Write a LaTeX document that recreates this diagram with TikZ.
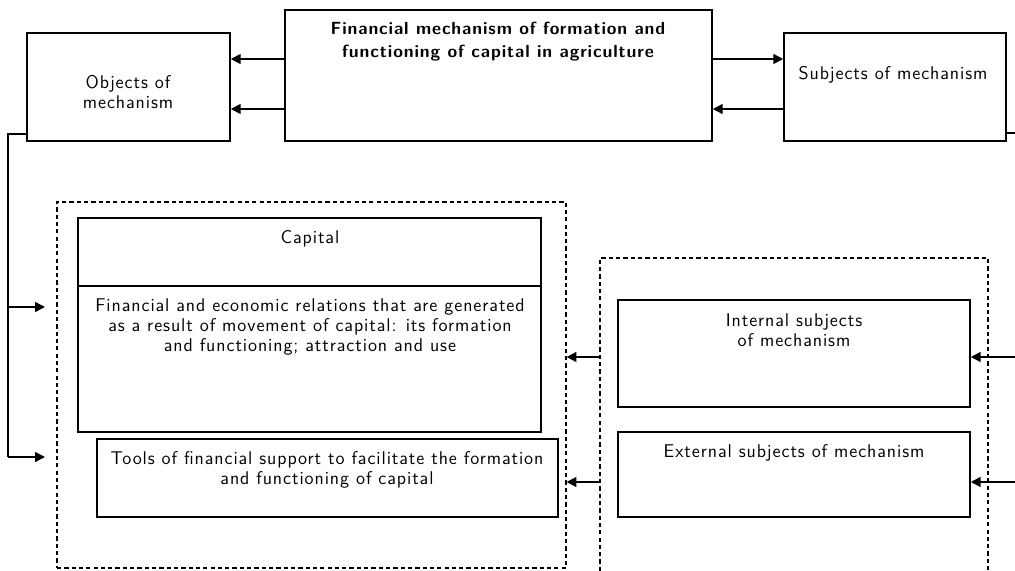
\documentclass[tikz,border=0pt]{standalone}
\usepackage{fontspec}
\setsansfont{Latin Modern Sans}[LetterSpace=5]
\usetikzlibrary{arrows.meta,fit}
\begin{document}
\begin{tikzpicture}[x=0.025cm,y=-0.025cm,
  box/.style={draw,line width=1.1pt,inner sep=0pt},
  thinbox/.style={draw,line width=0.8pt,inner sep=0pt},
  dbox/.style={draw,line width=0.8pt,dash pattern=on 3pt off 2.2pt,inner sep=0pt},
  txt/.style={font=\sffamily\fontsize{13.1}{14.2}\selectfont,align=center,inner sep=0pt,anchor=north},
  btxt/.style={font=\sffamily\bfseries\fontsize{12.5}{16.3}\selectfont,align=center,inner sep=0pt,anchor=north},
  arr/.style={line width=1.1pt,-{Triangle[length=7pt,width=7pt]}},
  ln/.style={line width=1.1pt}]
\useasboundingbox (0,0) rectangle (1015,571);
% top row
\node[box,fit={(27,33) (230,141)}] (obj) {};
\node[box,fit={(285,10) (712,141)}] (main) {};
\node[box,fit={(784,33) (1006,141)}] (subj) {};
\node[txt] (objt) at (128,75) {Objects of\\mechanism};
\node[btxt] (maint) at (498,22) {Financial mechanism of formation and\\functioning of capital in agriculture};
\node[txt] (subjt) at (893,66) {Subjects of mechanism};
% top arrows
\draw[arr] (main.west |- 0,59) -- (obj.east |- 0,59);
\draw[arr] (main.west |- 0,109) -- (obj.east |- 0,109);
\draw[arr] (main.east |- 0,59) -- (subj.west |- 0,59);
\draw[arr] (subj.west |- 0,109) -- (main.east |- 0,109);
% left dashed group
\node[dbox,fit={(57,202) (566,568)}] (lgrp) {};
\node[box,fit={(78,218) (541,432)}] (cap) {};
\draw[ln] (78,286) -- (541,286);
\node[txt] (capt) at (310,230) {Capital};
\node[txt] (relt) at (310,298) {Financial and economic relations that are generated\\as a result of movement of capital: its formation\\and functioning; attraction and use};
\node[thinbox,fit={(97,439) (558,517)}] (tools) {};
\node[txt] (toolst) at (327,451) {Tools of financial support to facilitate the formation\\and functioning of capital};
% right dashed group (open bottom)
\coordinate (rbl) at (600,571);
\coordinate (rbr) at (988,571);
\draw[line width=0.8pt,dash pattern=on 3pt off 2.2pt] (rbl) -- (600,258) -- (988,258) -- (rbr);
\node[box,fit={(618,300) (970,407)}] (int) {};
\node[txt] (intt) at (794,313) {Internal subjects\\of mechanism};
\node[box,fit={(618,432) (970,517)}] (ext) {};
\node[txt] (extt) at (794,444) {External subjects of mechanism};
% left feeder line
\coordinate (l1) at (8,134);
\coordinate (l2) at (8,307);
\coordinate (l3) at (8,457);
\coordinate (a1) at (45,307);
\coordinate (a2) at (45,457);
\draw[ln] (obj.west |- l1) -- (l1) -- (l3);
\draw[arr] (l2) -- (a1);
\draw[arr] (l3) -- (a2);
% right feeder line
\coordinate (r0) at (1018,133);
\coordinate (r1) at (1018,357);
\coordinate (r2) at (1018,482);
\draw[ln] (subj.east |- r0) -- (r0) -- (r2);
\draw[arr] (r1) -- (int.east |- r1);
\draw[arr] (r2) -- (ext.east |- r2);
% between groups
\coordinate (m1) at (600,357);
\coordinate (m2) at (600,482);
\draw[arr] (m1) -- (lgrp.east |- m1);
\draw[arr] (m2) -- (lgrp.east |- m2);
\end{tikzpicture}
\end{document}
